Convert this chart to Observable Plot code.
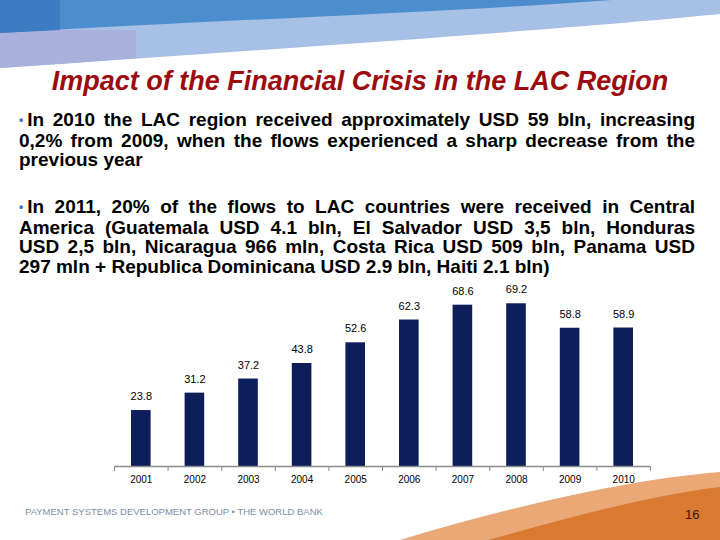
<!DOCTYPE html>
<html><head><meta charset="utf-8">
<script src="https://cdn.jsdelivr.net/npm/d3@7"></script>
<script src="https://cdn.jsdelivr.net/npm/@observablehq/plot@0.6"></script>
<style>
html,body{margin:0;padding:0;background:#fff}
#slide{position:relative;width:720px;height:540px;overflow:hidden;font-family:"Liberation Sans",Arial,sans-serif}
#bg{position:absolute;left:0;top:0}
#title{position:absolute;left:0;top:66px;width:720px;text-align:center;font:italic bold 27px "Liberation Sans",Arial,sans-serif;color:#9e0b0f;white-space:nowrap}
.para{position:absolute;left:19px;width:676px;font:bold 19px/19.5px "Liberation Sans",Arial,sans-serif;color:#000}
.line{white-space:nowrap;text-align:justify;text-align-last:justify}
.line.last{text-align-last:left}
.bul{color:#3d6fc2;font-size:12px;margin-right:4px;vertical-align:2px}
#chart{position:absolute;left:0;top:278px}
#footer{position:absolute;left:25px;top:506px;font:9.5px "Liberation Sans",Arial,sans-serif;color:#7a90a6;white-space:nowrap}
#page{position:absolute;left:685px;top:507px;font:13px "Liberation Sans",Arial,sans-serif;color:#3a1608}
</style></head>
<body>
<div id="slide">
<svg id="bg" width="720" height="540">
  <path d="M0,0 H720 V14 C560,30 260,50 0,68 Z" fill="#a7c0e6"/>
  <path d="M0,30 H136 V58 C90,62 45,65 0,68 Z" fill="#a9b0db"/>
  <path d="M0,0 H612 C450,12 220,20 0,33 Z" fill="#4c8ecd"/>
  <path d="M0,0 H60 V30 C40,31 20,32 0,33 Z" fill="#3b7cc2"/>
  <path d="M400,540 C500,510 620,480 720,472 V540 Z" fill="#eaa877"/>
  <path d="M488,540 C560,520 650,495 720,487 V540 Z" fill="#d97a30"/>
</svg>
<div id="title">Impact of the Financial Crisis in the LAC Region</div>
<div class="para" style="top:110px">
  <div class="line"><span class="bul">•</span>In 2010 the LAC region received approximately USD 59 bln, increasing</div>
  <div class="line">0,2% from 2009, when the flows experienced a sharp decrease from the</div>
  <div class="line last">previous year</div>
</div>
<div class="para" style="top:197px">
  <div class="line"><span class="bul">•</span>In 2011, 20% of the flows to LAC countries were received in Central</div>
  <div class="line">America (Guatemala USD 4.1 bln, El Salvador USD 3,5 bln, Honduras</div>
  <div class="line">USD 2,5 bln, Nicaragua 966 mln, Costa Rica USD 509 bln, Panama USD</div>
  <div class="line last">297 mln + Republica Dominicana USD 2.9 bln, Haiti 2.1 bln)</div>
</div>
<div id="chart"></div>
<div id="footer">PAYMENT SYSTEMS DEVELOPMENT GROUP • THE WORLD BANK</div>
<div id="page">16</div>
</div>
<script>
const years = [2001, 2002, 2003, 2004, 2005, 2006, 2007, 2008, 2009, 2010];
const values = [23.8, 31.2, 37.2, 43.8, 52.6, 62.3, 68.6, 69.2, 58.8, 58.9];
const valueLabels = ["23.8", "31.2", "37.2", "43.8", "52.6", "62.3", "68.6", "69.2", "58.8", "58.9"];

const data = years.map((year, i) => ({year, value: values[i], label: valueLabels[i]}));
const boundaries = [...years.map(y => y - 0.5), years[years.length - 1] + 0.5];

const chart = Plot.plot({
  width: 720,
  height: 212,
  marginLeft: 114,
  marginRight: 70,
  marginTop: 10,
  marginBottom: 24,
  x: {type: "linear", domain: [years[0] - 0.5, years[years.length - 1] + 0.5], label: null},
  y: {domain: [0, 75.7], axis: null},
  style: {fontFamily: "Liberation Sans, Arial, sans-serif", fontSize: "10px", color: "#000", background: "transparent", overflow: "visible"},
  marks: [
    Plot.rectY(data, {x1: d => d.year - 0.5, x2: d => d.year + 0.5, y: "value", fill: "#0c1f5b", insetLeft: 17, insetRight: 17}),
    Plot.ruleY([0], {stroke: "#8c8c8c", strokeWidth: 1.5}),
    Plot.axisX(boundaries, {tickSize: 5, tickFormat: () => "", stroke: "#8c8c8c", label: null}),
    Plot.axisX(years, {tickSize: 0, tickPadding: 9, tickFormat: d => String(d), fontSize: 10, label: null}),
    Plot.text(data, {x: "year", y: "value", text: "label", dy: -14, fontSize: 11, fill: "#000"})
  ]
});
document.getElementById("chart").appendChild(chart);
</script>
</body></html>
